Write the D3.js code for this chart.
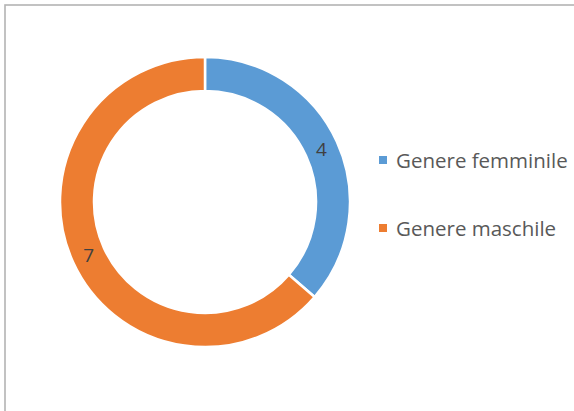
<!DOCTYPE html>
<html>
<head>
<meta charset="utf-8">
<script src="https://cdn.jsdelivr.net/npm/d3@7"></script>
<style>
  html, body { margin: 0; padding: 0; background: #fff; }
  svg { display: block; }
</style>
</head>
<body>
<svg id="chart" width="574" height="411"></svg>
<script>
// Gender breakdown
const categories = ["Genere femminile", "Genere maschile"];
const values = [4, 7];
const colors = ["#5B9BD5", "#ED7D31"];

const svg = d3.select("#chart");

// chart frame (continues past the right and bottom edges)
svg.append("rect")
  .attr("x", 5).attr("y", 5)
  .attr("width", 700).attr("height", 600)
  .attr("fill", "#fff")
  .attr("stroke", "#b3b3b3")
  .attr("stroke-width", 1.6);

const cx = 205, cy = 202;
const outerR = 145, innerR = 111;

const data = categories.map((c, i) => ({ name: c, value: values[i], color: colors[i] }));

const pie = d3.pie().value(d => d.value).sort(null);
const arc = d3.arc().innerRadius(innerR).outerRadius(outerR);
const labelArc = d3.arc().innerRadius((innerR + outerR) / 2).outerRadius((innerR + outerR) / 2);

const g = svg.append("g").attr("transform", `translate(${cx},${cy})`);
const arcs = pie(data);

g.selectAll("path.slice")
  .data(arcs)
  .join("path")
  .attr("class", "slice")
  .attr("d", arc)
  .attr("fill", d => d.data.color)
  .attr("stroke", "#fff")
  .attr("stroke-width", 2.5)
  .attr("stroke-linejoin", "miter");

g.selectAll("text.val")
  .data(arcs)
  .join("text")
  .attr("class", "val")
  .attr("transform", d => `translate(${labelArc.centroid(d)})`)
  .attr("text-anchor", "middle")
  .attr("dominant-baseline", "central")
  .attr("font-family", "'Open Sans', sans-serif")
  .attr("font-size", 19)
  .attr("fill", "#404040")
  .text(d => d.data.value);

// legend
const legend = svg.append("g").attr("transform", "translate(379,0)");
const legendY = d3.scalePoint().domain(categories).range([160, 228]);

const item = legend.selectAll("g.item")
  .data(data)
  .join("g")
  .attr("class", "item")
  .attr("transform", d => `translate(0,${legendY(d.name)})`);

item.append("rect")
  .attr("x", 0).attr("y", -4)
  .attr("width", 8).attr("height", 8)
  .attr("fill", d => d.color);

item.append("text")
  .attr("x", 17)
  .attr("y", 0)
  .attr("dominant-baseline", "central")
  .attr("font-family", "'Open Sans', sans-serif")
  .attr("font-size", 20.5)
  .attr("fill", "#595959")
  .text(d => d.name);
</script>
</body>
</html>
